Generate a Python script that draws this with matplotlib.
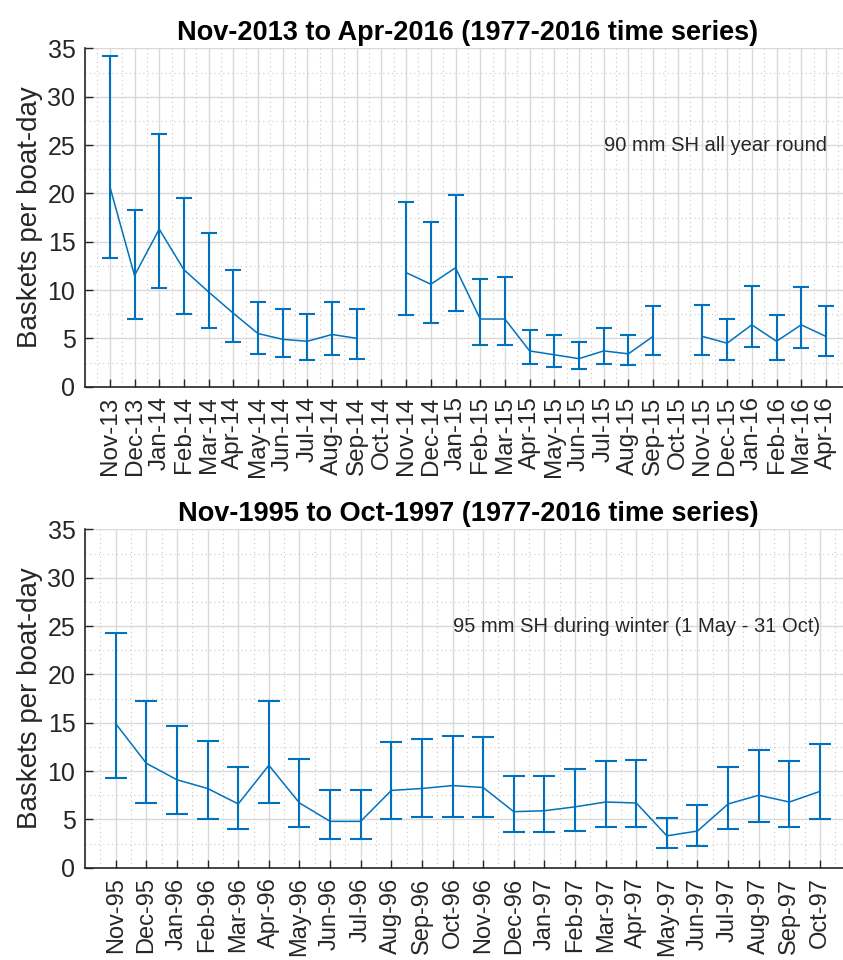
import numpy as np
import matplotlib.pyplot as plt
from matplotlib.ticker import MultipleLocator

plt.rcParams['font.family'] = ['Liberation Sans', 'DejaVu Sans']

# ---- top panel: Nov-2013 to Apr-2016
months_a = ['Nov-13', 'Dec-13', 'Jan-14', 'Feb-14', 'Mar-14', 'Apr-14', 'May-14', 'Jun-14',
            'Jul-14', 'Aug-14', 'Sep-14', 'Oct-14', 'Nov-14', 'Dec-14', 'Jan-15', 'Feb-15',
            'Mar-15', 'Apr-15', 'May-15', 'Jun-15', 'Jul-15', 'Aug-15', 'Sep-15', 'Oct-15',
            'Nov-15', 'Dec-15', 'Jan-16', 'Feb-16', 'Mar-16', 'Apr-16']
mean_a = [20.7, 11.5, 16.3, 12.1, 9.8, 7.6, 5.5, 4.9, 4.7, 5.4, 5.0, np.nan,
          11.8, 10.6, 12.3, 7.0, 7.0, 3.7, 3.3, 2.9, 3.7, 3.4, 5.2, np.nan,
          5.2, 4.5, 6.4, 4.7, 6.4, 5.2]
hi_a = [34.2, 18.3, 26.1, 19.5, 15.9, 12.1, 8.8, 8.0, 7.5, 8.8, 8.0, np.nan,
        19.1, 17.0, 19.8, 11.1, 11.3, 5.9, 5.3, 4.6, 6.1, 5.3, 8.3, np.nan,
        8.4, 7.0, 10.4, 7.4, 10.3, 8.3]
lo_a = [13.3, 7.0, 10.2, 7.5, 6.1, 4.6, 3.4, 3.1, 2.8, 3.3, 2.9, np.nan,
        7.4, 6.6, 7.8, 4.3, 4.3, 2.3, 2.0, 1.8, 2.3, 2.2, 3.3, np.nan,
        3.3, 2.8, 4.1, 2.8, 4.0, 3.2]

# ---- bottom panel: Nov-1995 to Oct-1997
months_b = ['Nov-95', 'Dec-95', 'Jan-96', 'Feb-96', 'Mar-96', 'Apr-96', 'May-96', 'Jun-96',
            'Jul-96', 'Aug-96', 'Sep-96', 'Oct-96', 'Nov-96', 'Dec-96', 'Jan-97', 'Feb-97',
            'Mar-97', 'Apr-97', 'May-97', 'Jun-97', 'Jul-97', 'Aug-97', 'Sep-97', 'Oct-97']
mean_b = [14.9, 10.8, 9.1, 8.2, 6.6, 10.6, 6.7, 4.8, 4.8, 8.0, 8.2, 8.5,
          8.3, 5.8, 5.9, 6.3, 6.8, 6.7, 3.3, 3.8, 6.6, 7.5, 6.8, 7.9]
hi_b = [24.3, 17.3, 14.7, 13.1, 10.4, 17.3, 11.3, 8.0, 8.0, 13.0, 13.3, 13.6,
        13.5, 9.5, 9.5, 10.2, 11.0, 11.1, 5.1, 6.5, 10.4, 12.2, 11.0, 12.8]
lo_b = [9.3, 6.7, 5.6, 5.0, 4.0, 6.7, 4.2, 3.0, 3.0, 5.0, 5.2, 5.3,
        5.2, 3.7, 3.7, 3.8, 4.2, 4.2, 2.0, 2.3, 4.0, 4.7, 4.2, 5.0]

titles = ['Nov-2013 to Apr-2016 (1977-2016 time series)',
          'Nov-1995 to Oct-1997 (1977-2016 time series)']
notes = ['90 mm SH all year round', '95 mm SH during winter (1 May - 31 Oct)']

blue = '#0072BD'
dark = '#262626'

fig = plt.figure(figsize=(8.43, 9.6), dpi=100)
ax1 = fig.add_axes([0.101, 0.5972, 0.908, 0.3524])
ax2 = fig.add_axes([0.101, 0.0961, 0.908, 0.3524])

panels = [(ax1, months_a, mean_a, lo_a, hi_a, 6, 17.5, 21),
          (ax2, months_b, mean_b, lo_b, hi_b, 8, 17, 12)]

for i, (ax, months, m, lo, hi, cap, xfs, note_x) in enumerate(panels):
    x = np.arange(1, len(months) + 1)
    m = np.array(m)
    err = [m - np.array(lo), np.array(hi) - m]
    ax.errorbar(x, m, yerr=err, color=blue, lw=1.1, elinewidth=1.5,
                capsize=cap, capthick=1.5, zorder=3)
    ax.set_xlim(0, len(months) + 1)
    ax.set_ylim(0, 35)
    ax.set_xticks(x)
    ax.set_xticklabels(months, rotation=90, fontsize=xfs)
    ax.set_yticks(range(0, 36, 5))
    ax.yaxis.set_minor_locator(MultipleLocator(2.5))
    ax.xaxis.set_minor_locator(MultipleLocator(0.5))
    ax.tick_params(axis='y', labelsize=18, pad=7)
    ax.tick_params(axis='x', pad=7)
    ax.tick_params(which='major', direction='in', length=6, color=dark, labelcolor=dark, width=1)
    ax.tick_params(which='minor', length=0)
    ax.grid(which='major', color='#d9d9d9', lw=1, ls='-')
    ax.grid(which='minor', color='#c8c8c8', lw=0.8, ls=(0, (1, 3)))
    ax.set_axisbelow(True)
    for s in ['top', 'right']:
        ax.spines[s].set_visible(False)
    for s in ['left', 'bottom']:
        ax.spines[s].set_color(dark)
        ax.spines[s].set_linewidth(1.2)
    ax.set_ylabel('Baskets per boat-day', fontsize=20, color=dark, labelpad=3)
    ax.set_title(titles[i], fontsize=19.5, fontweight='bold', pad=6)
    ax.text(note_x, 25, notes[i], fontsize=14.5, color=dark, va='center', ha='left')

fig.savefig('out.png', dpi=100)
